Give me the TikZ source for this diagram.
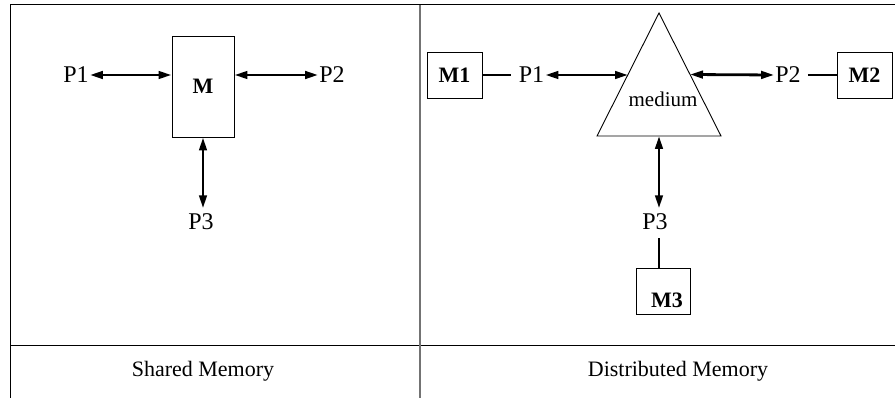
\documentclass[tikz,border=0pt]{standalone}
\usepackage{fontspec}
\setmainfont{Liberation Serif}
\usetikzlibrary{arrows.meta,calc}
\begin{document}
\begin{tikzpicture}[x=1pt,y=-1pt,
  frame/.style={line width=1pt,black},
  midline/.style={line width=1.3pt,black!55},
  box/.style={draw,line width=0.9pt,inner sep=0pt,font=\fontsize{22}{24}\selectfont\bfseries},
  plabel/.style={inner xsep=1pt,inner ysep=5pt,text height=16pt,text depth=0pt,font=\fontsize{24}{28}\selectfont},
  biarrow/.style={line width=2.8pt,{Triangle[length=13pt,width=7.5pt]}-{Triangle[length=13pt,width=7.5pt]}},
  link/.style={line width=2.8pt},
  caption/.style={anchor=base,font=\fontsize{22}{26}\selectfont}]
\useasboundingbox (0,0) rectangle (895,398);
% frame
\draw[frame] (10,398) -- (10,5) -- (895,5);
\draw[frame] (10,345) -- (895,345);
\draw[midline] (420,5) -- (420,398);
% ---------- Shared memory ----------
\node[box,minimum width=62pt,minimum height=101pt] (M) at (203,86.5) {M};
\node[plabel] (P1) at (76,75) {P1};
\node[plabel] (P2) at (332,75) {P2};
\node[plabel] (P3) at (201,221.5) {P3};
\draw[biarrow] (P1.east) -- (P1.east -| M.west);
\draw[biarrow] (P2.west -| M.east) -- (P2.west);
\draw[biarrow] (M.south -| 203,0) -- (P3.north -| 203,0);
\node[caption] (cap1) at (203,376) {Shared Memory};
% ---------- Distributed memory ----------
\coordinate (tA) at (659,13);
\coordinate (tL) at (597,136);
\coordinate (tR) at (721,136);
\draw[line width=0.9pt] (tA) -- (tL) -- (tR) -- cycle;
\coordinate (tLs) at ($(tA)!0.5!(tL)$);
\coordinate (tRs) at ($(tA)!0.5!(tR)$);
\coordinate (tB) at ($(tL)!0.5!(tR)$);
\node[font=\fontsize{21}{24}\selectfont,inner sep=0pt] (med) at (663,99) {medium};
\node[box,minimum width=55pt,minimum height=46pt] (M1) at (454.5,75) {M1};
\node[box,minimum width=55pt,minimum height=46pt] (M2) at (864.5,75) {M2};
\node[box,minimum width=54pt,minimum height=46pt,
  label={[font=\fontsize{22}{24}\selectfont\bfseries,xshift=4pt,yshift=-9pt]center:M3}] (M3) at (663,291) {};
\node[plabel] (Q1) at (531.5,75) {P1};
\node[plabel] (Q2) at (788,75) {P2};
\node[plabel] (Q3) at (655,221.5) {P3};
\draw[link,shorten >=7pt] (M1.east) -- (Q1.west);
\draw[biarrow] (Q1.east) -- (Q1.east -| tLs);
\draw[biarrow] (tRs) -- (Q2.west);
\draw[link,shorten <=6pt] (Q2.east) -- (M2.west);
\draw[biarrow] (tB) -- (tB |- Q3.north);
\draw[link] (M3.north -| 659,0) -- ++(0,-30);
\node[caption] (cap2) at (678,376) {Distributed Memory};
\end{tikzpicture}
\end{document}
